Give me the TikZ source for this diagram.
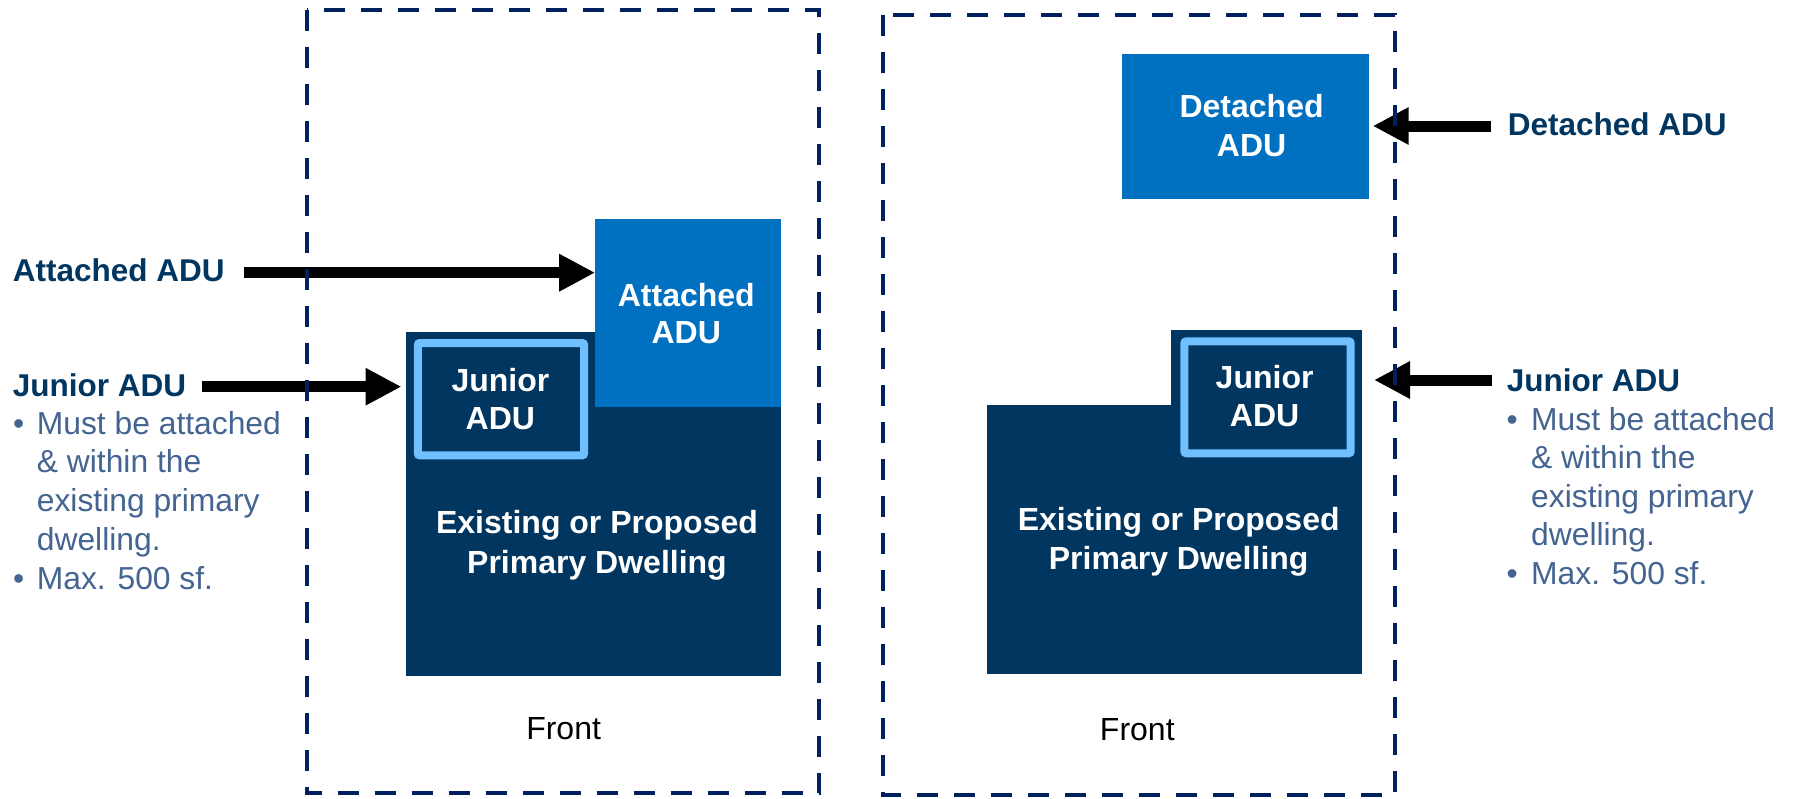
\documentclass[tikz,border=0pt]{standalone}
\usepackage{fontspec}
\setmainfont{Liberation Sans}
\usetikzlibrary{arrows.meta}
\definecolor{navy}{RGB}{0,54,96}
\definecolor{adublue}{RGB}{0,112,192}
\definecolor{jrline}{RGB}{112,191,255}
\definecolor{lotline}{RGB}{0,32,96}
\definecolor{notegray}{RGB}{68,100,145}

\begin{document}
\begin{tikzpicture}[x=1pt,y=-1pt,
  lot/.style={draw=lotline,line width=4pt,dash pattern=on 21pt off 16pt},
  block/.style={fill=#1,draw=none,inner sep=0pt,outer sep=0pt},
  jrbox/.style={draw=jrline,line width=8pt,rounded corners=2pt,fill=navy,inner sep=0pt,outer sep=0pt},
  boxtxt/.style={text=white,font=\fontsize{32}{38}\selectfont\bfseries,anchor=base,inner sep=0pt},
  lbl/.style={text=navy,font=\fontsize{31.5}{38}\selectfont\bfseries,anchor=base west,inner sep=0pt},
  note/.style={text=notegray,font=\fontsize{31.8}{38}\selectfont,anchor=base west,inner sep=0pt},
  fronttxt/.style={text=black,font=\fontsize{32}{38}\selectfont,anchor=base,inner sep=0pt},
  bigarrow/.style={draw=black,line width=11pt,-{Triangle[length=36pt,width=35pt]}}
]
\fill[white] (0,0) rectangle (1794,798);
\useasboundingbox (0,0) rectangle (1794,798);

% ---- left lot: attached ADU and junior ADU ----
\node[block=navy,minimum width=374.8pt,minimum height=344pt] (lprimary) at (593.1,504) {};
\node[block=adublue,minimum width=185.3pt,minimum height=188pt] (attached) at (687.85,313) {};
\node[jrbox,minimum width=166.3pt,minimum height=112.3pt] (ljunior) at (500.95,399.15) {};

\node[boxtxt] (att1) at (686.3,306) {Attached};
\node[boxtxt] (att2) at (686.3,343) {ADU};
\node[boxtxt] (ljr1) at (500.4,391) {Junior};
\node[boxtxt] (ljr2) at (500.4,429) {ADU};
\node[boxtxt] (lpr1) at (597,533) {Existing or Proposed};
\node[boxtxt] (lpr2) at (597,573) {Primary Dwelling};
\node[fronttxt] (lfront) at (563.6,739) {Front};

% ---- right lot: detached ADU and junior ADU ----
\node[block=navy,minimum width=374.8pt,minimum height=269pt] (rprimary) at (1174.6,539.5) {};
\node[block=navy,minimum width=191pt,minimum height=77pt] (rwing) at (1266.5,368.5) {};
\node[jrbox,minimum width=166.3pt,minimum height=112pt] (rjunior) at (1267.55,397.3) {};
\node[block=adublue,minimum width=247.3pt,minimum height=145pt] (detached) at (1245.45,126.5) {};

\node[boxtxt] (det1) at (1251.6,117) {Detached};
\node[boxtxt] (det2) at (1251.6,156) {ADU};
\node[boxtxt] (rjr1) at (1264.6,388.3) {Junior};
\node[boxtxt] (rjr2) at (1264.6,426.7) {ADU};
\node[boxtxt] (rpr1) at (1178.7,530.7) {Existing or Proposed};
\node[boxtxt] (rpr2) at (1178.7,569.3) {Primary Dwelling};
\node[fronttxt] (rfront) at (1137.3,740) {Front};

% ---- left labels ----
\node[lbl] (lattlbl) at (12.7,281.7) {Attached ADU};
\node[lbl] (ljrlbl) at (12.7,396.7) {Junior ADU};
\node[note] (lbul1) at (13,434) {•};
\node[note] (lbul2) at (13,589.3) {•};
\node[note] (ln1) at (36.7,434) {Must be attached};
\node[note] (ln2) at (36.7,472.7) {\& within the};
\node[note] (ln3) at (36.7,511.7) {existing primary};
\node[note] (ln4) at (36.7,550) {dwelling.};
\node[note] (ln5) at (36.7,589.3) {Max. 500 sf.};

% ---- right labels ----
\node[lbl] (rdetlbl) at (1507.7,135.4) {Detached ADU};
\node[lbl] (rjrlbl) at (1506.7,391.5) {Junior ADU};
\node[note] (rbul1) at (1506.4,430) {•};
\node[note] (rbul2) at (1506.4,584.4) {•};
\node[note] (rn1) at (1531,430) {Must be attached};
\node[note] (rn2) at (1531,468.6) {\& within the};
\node[note] (rn3) at (1531,507.2) {existing primary};
\node[note] (rn4) at (1531,545.8) {dwelling.};
\node[note] (rn5) at (1531,584.4) {Max. 500 sf.};

% ---- pointers ----
\coordinate (aStart) at (244,272.7);
\coordinate (jStart) at (201.7,386.7);
\coordinate (dStart) at (1490.7,126);
\coordinate (rjStart) at (1491.7,380);
\draw[bigarrow] (aStart) -- (aStart -| attached.west);
\draw[bigarrow,shorten >=4.2pt] (jStart) -- (jStart -| lprimary.west);
\draw[bigarrow,shorten >=3.6pt] (dStart) -- (dStart -| detached.east);
\draw[bigarrow,shorten >=12pt] (rjStart) -- (rjStart -| rprimary.east);

% ---- lot lines ----
\draw[lot] (306.8,10) rectangle (818.9,793.3);
\draw[lot] (883,15) rectangle (1395,795);
\end{tikzpicture}
\end{document}
